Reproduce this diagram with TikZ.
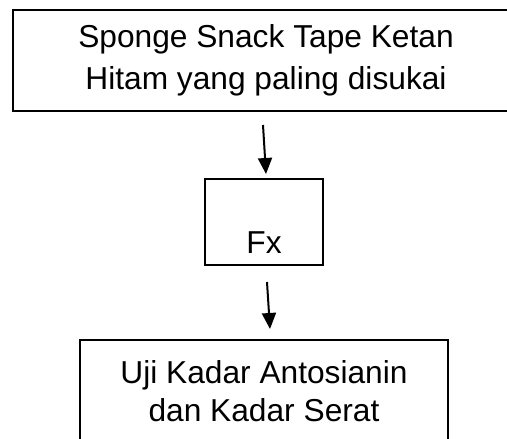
\documentclass[tikz,border=0pt]{standalone}
\usepackage{fontspec}
\setmainfont{Liberation Sans}
\usetikzlibrary{arrows.meta}
\begin{document}
\begin{tikzpicture}[x=1pt,y=-1pt,
  box/.style={draw=black, line width=2.8pt, minimum width=#1, inner sep=0pt, anchor=center},
  boxh/.style={minimum height=#1},
  label/.style={anchor=base, inner sep=0pt, font=\fontsize{31.7}{41}\selectfont},
  flow/.style={line width=2pt, -{Triangle[length=16pt,width=14pt]}}]
  \useasboundingbox (0,0) rectangle (507,439);
  \clip (0,0) rectangle (507,439);
  \fill[white] (0,0) rectangle (507,439);

  % boxes
  \node[box=506pt, boxh=101pt] (top) at (266,60.5) {};
  \node[box=118pt, boxh=86pt] (mid) at (264,222) {};
  \node[box=368pt, boxh=140pt] (bot) at (264,410) {};

  % texts
  \node[label] (t1) at (266,47) {Sponge Snack Tape Ketan};
  \node[label] (t2) at (266,89) {Hitam yang paling disukai};
  \node[label] (fx) at (264,253) {Fx};
  \node[label] (b1) at (264,383) {Uji Kadar Antosianin};
  \node[label] (b2) at (264,421) {dan Kadar Serat};

  % arrow end points
  \coordinate (a1s) at (263,125);
  \coordinate (a1e) at (266,174);
  \coordinate (a2s) at (267,282);
  \coordinate (a2e) at (270,329);

  \draw[flow] (a1s) -- (a1e);
  \draw[flow] (a2s) -- (a2e);
\end{tikzpicture}
\end{document}
